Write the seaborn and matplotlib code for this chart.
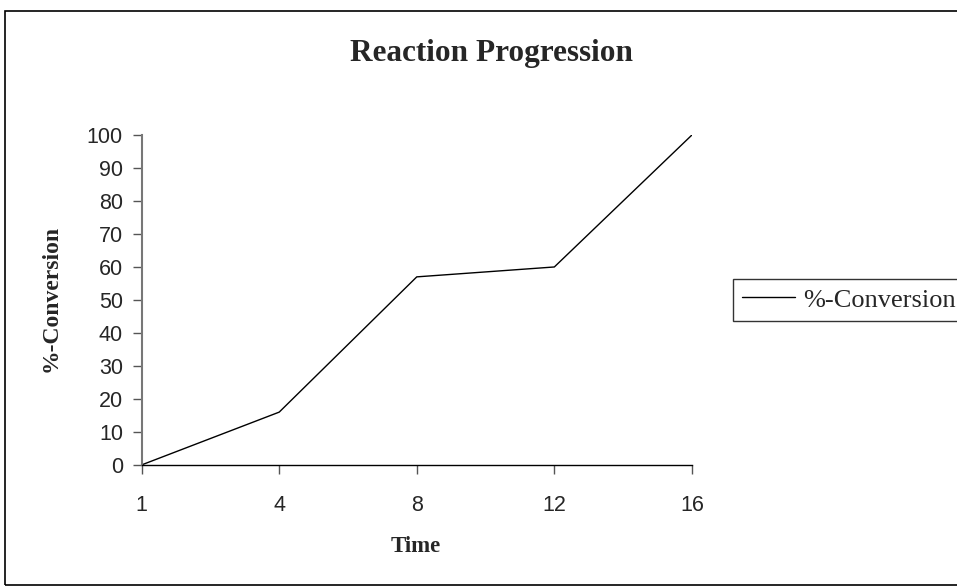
import matplotlib
matplotlib.use("Agg")
import matplotlib.pyplot as plt
import seaborn as sns
import pandas as pd
from matplotlib.patches import Rectangle

# Data
time_labels = ["1", "4", "8", "12", "16"]
conversion = [0, 16, 57, 60, 100]
y_ticks = list(range(0, 101, 10))

df = pd.DataFrame({"Time": time_labels, "%-Conversion": conversion})

sns.set_style("white")
plt.rcParams["font.family"] = ["Liberation Sans", "DejaVu Sans"]

fig = plt.figure(figsize=(9.57, 5.87), dpi=100)
ax = fig.add_axes([0.148, 0.208, 0.575, 0.562])

sns.lineplot(data=df, x="Time", y="%-Conversion", color="black", linewidth=1,
             ax=ax, label="%-Conversion", sort=False)

ax.set_xlim(0, len(time_labels) - 1)
ax.set_ylim(0, 100)
ax.set_yticks(y_ticks)
ax.tick_params(axis="both", labelsize=15.5, direction="out", length=6.5, width=1,
               left=True, bottom=True, color="#555555")
ax.tick_params(axis="y", pad=7)
ax.tick_params(axis="x", pad=15)

for s in ["top", "right"]:
    ax.spines[s].set_visible(False)
ax.spines["left"].set_color("#777777")
ax.spines["left"].set_linewidth(1.5)
ax.spines["bottom"].set_color("black")
ax.spines["bottom"].set_linewidth(1)

serif = ["Liberation Serif", "DejaVu Serif"]
fig.text(491 / 957, 1 - 54 / 587, "Reaction Progression", ha="center", va="center",
         fontsize=22.5, fontweight="bold", family=serif)
ax.set_xlabel("Time", fontsize=16.5, fontweight="bold", family=serif)
ax.xaxis.set_label_coords(0.498, -0.215)
ax.set_ylabel("%-Conversion", fontsize=17, fontweight="bold", family=serif)
ax.yaxis.set_label_coords(-0.145, 0.506)

leg = ax.legend(loc="upper left", bbox_to_anchor=(733 / 957, 1 - 279 / 587),
                bbox_transform=fig.transFigure, frameon=True, fancybox=False,
                edgecolor="black", prop={"family": serif, "size": 19},
                handlelength=2.0, borderpad=0.35, handletextpad=0.3,
                borderaxespad=0)
leg.get_frame().set_linewidth(1)
leg.set_clip_on(False)

# outer chart border
fig.patches.append(Rectangle((5 / 957, 2 / 587), 1, 1 - 13 / 587, transform=fig.transFigure,
                             fill=False, edgecolor="black", linewidth=1.2))

fig.savefig("out.png", dpi=100)
